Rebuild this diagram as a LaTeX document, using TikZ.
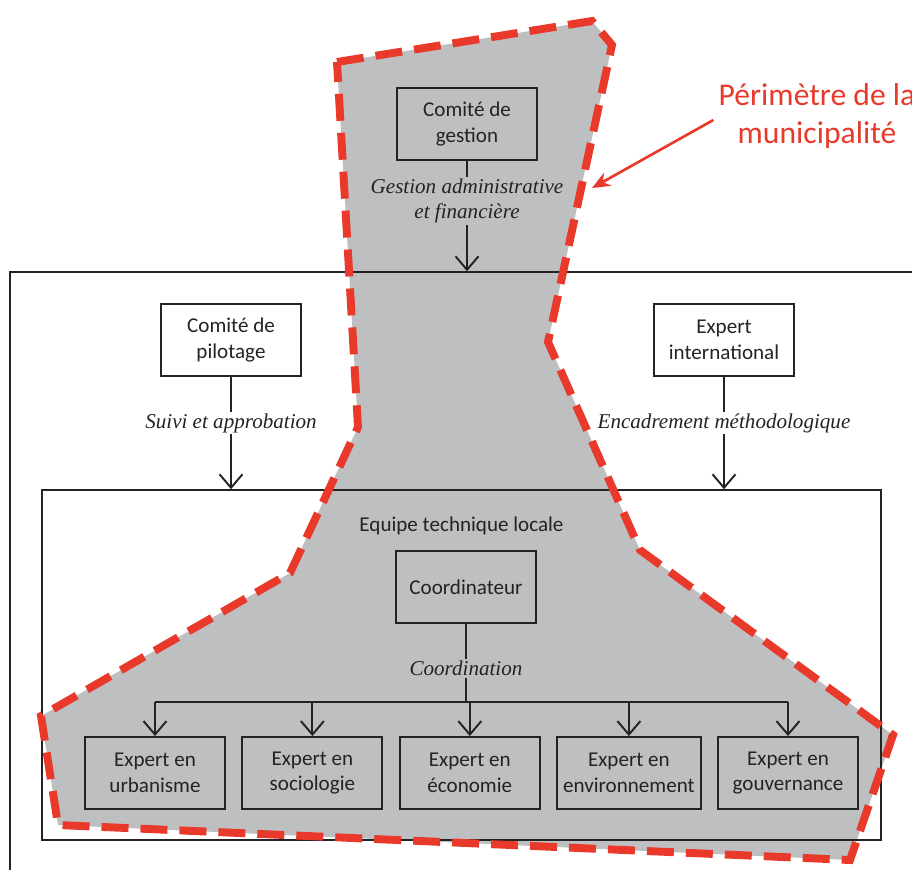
\documentclass[tikz,border=0pt]{standalone}
\usepackage{fontspec}
\setsansfont{Carlito}
\newfontfamily\serifit{Liberation Serif}
\usepackage{tikz}
\usetikzlibrary{arrows.meta,positioning,calc}
\definecolor{areagray}{RGB}{190,191,193}
\definecolor{perimred}{RGB}{232,57,42}
\definecolor{ink}{RGB}{35,35,35}
\tikzset{box/.style={draw=ink,line width=1.1pt,align=center,minimum width=2.8cm,minimum height=1.44cm,
   font=\sffamily\fontsize{12}{14.7}\selectfont,text=ink},
 frame/.style={draw=ink,line width=0.9pt,inner sep=0pt},
 lbl/.style={font=\serifit\itshape\fontsize{12}{14.5}\selectfont,align=center,inner sep=1pt,text=ink},
 arrow/.style={-{Straight Barb[length=2.7mm,width=4.6mm]},line width=1.1pt,draw=ink},
 perim/.style={draw=perimred,line width=4.5pt,dash pattern=on 5.4mm off 2.4mm}}

\begin{document}
\begin{tikzpicture}[x=0.02cm,y=-0.02cm]
\useasboundingbox (0,0) rectangle (912,869);
% zone couverte par la municipalite
\fill[areagray] (337,62) -- (592,21) -- (612,45) -- (548,342) -- (640,550) -- (893,735)
  -- (850,860) -- (58,825) -- (41,716) -- (290,573) -- (358,427) -- cycle;

\node[frame,minimum width=18.5cm,minimum height=12.46cm] (org) at (472.5,583.5) {};
\node[frame,minimum width=16.78cm,minimum height=7cm] (etl) at (461.5,665) {};
\node[font=\sffamily\fontsize{12}{14.7}\selectfont,text=ink,below=0.42cm of etl.north] (etlt) {Equipe technique locale};

\node[box] (cg) at (467,124) {Comité de\\gestion};
\node[box] (cp) at (231,340) {Comité de\\pilotage};
\node[box] (ei) at (724,340) {Expert\\international};
\node[box] (co) at (466,587) {Coordinateur};

\node[box] (e1) at (155,773) {Expert en\\urbanisme};
\node[box,right=3.1mm of e1] (e2) {Expert en\\sociologie};
\node[box,right=3.1mm of e2] (e3) {Expert en\\économie};
\node[box,right=3.1mm of e3] (e4) {Expert en\\environnement};
\node[box,right=3.1mm of e4] (e5) {Expert en\\gouvernance};
\coordinate (br) at (466,702);

\draw[arrow] (cg) -- node[lbl,fill=areagray,pos=0.36]{Gestion administrative\\et financière} (cg |- org.north);
\draw[arrow] (cp) -- node[lbl,fill=white,pos=0.41]{Suivi et approbation} (cp |- etl.north);
\draw[arrow] (ei) -- node[lbl,fill=white,pos=0.41]{Encadrement méthodologique} (ei |- etl.north);
\draw[line width=1.1pt,draw=ink] (co) -- node[lbl,fill=areagray,pos=0.57]{Coordination} (br);
\draw[line width=1.1pt,draw=ink] (e1.north |- br) -- (e5.north |- br);
\foreach \i in {1,...,5}
  \draw[arrow] (e\i.north |- br) -- (e\i.north);

% perimetre
\draw[perim] (337,62) -- (592,21) -- (612,45) -- (548,342) -- (640,550) -- (893,735)
  -- (850,860) -- (58,825) -- (41,716) -- (290,573) -- (358,427) -- cycle;
\node[text=perimred,font=\sffamily\fontsize{18}{21.5}\selectfont,align=center,inner sep=0pt] (pt) at (817,116) {Périmètre de la\\municipalité};
\coordinate (pm) at (592,188);
\draw[perimred,line width=1.5pt,-{Stealth[length=3.6mm,width=3mm]}] ([xshift=-0.1cm,yshift=-0.08cm]pt.west) -- (pm);
\end{tikzpicture}
\end{document}
